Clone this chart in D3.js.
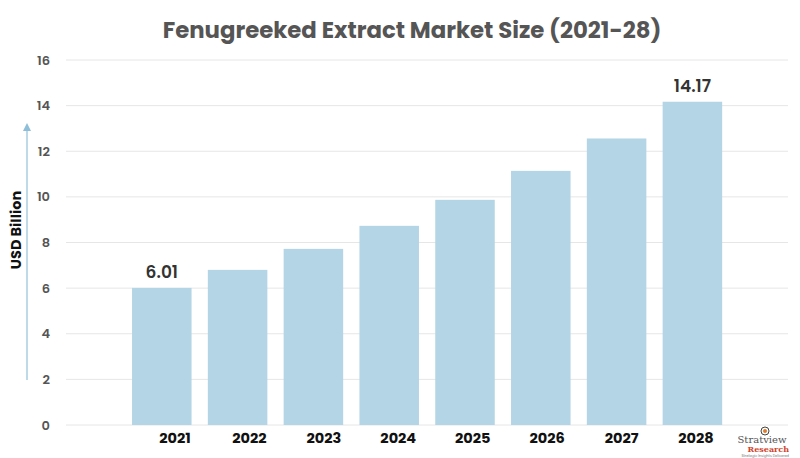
<!DOCTYPE html>
<html><head><meta charset="utf-8">
<script src="https://cdn.jsdelivr.net/npm/d3@7"></script>
<style>body{margin:0;background:#fff}svg{display:block}</style>
</head><body>
<svg id="c" width="800" height="458"></svg>
<script>
const years = ["2021","2022","2023","2024","2025","2026","2027","2028"];
const values = [6.01, 6.8, 7.72, 8.73, 9.87, 11.14, 12.56, 14.17];
const yTicks = [0,2,4,6,8,10,12,14,16];
const labelled = {"2021":"6.01","2028":"14.17"};

const svg = d3.select("#c");
const font = "Poppins, 'Open Sans', 'Noto Sans', sans-serif";
const y = d3.scaleLinear().domain([0,16]).range([425,60]);
const x = d3.scaleBand().domain(years).range([123.9,730.3]).paddingInner(0.215).paddingOuter(0.1075);
const xl = d3.scalePoint().domain(years).range([175,696]);

// grid
svg.append("g").selectAll("line").data(yTicks).join("line")
  .attr("x1",66).attr("x2",788).attr("y1",d=>y(d)).attr("y2",d=>y(d))
  .attr("stroke","#e6e6e6").attr("stroke-width",1);

// y tick labels
svg.append("g").selectAll("text").data(yTicks).join("text")
  .attr("x",50).attr("y",d=>y(d)).attr("dy","0.35em").attr("text-anchor","end")
  .attr("font-family",font).attr("font-size",13).attr("font-weight",600).attr("fill","#555")
  .text(d=>d);

// bars
svg.append("g").selectAll("rect").data(years).join("rect")
  .attr("x",d=>x(d)).attr("width",x.bandwidth())
  .attr("y",(d,i)=>y(values[i])).attr("height",(d,i)=>y(0)-y(values[i]))
  .attr("fill","#b3d5e5");

// value labels
svg.append("g").selectAll("text").data(years.filter(d=>labelled[d])).join("text")
  .attr("x",d=>x(d)+x.bandwidth()/2).attr("y",d=>y(values[years.indexOf(d)])-10)
  .attr("text-anchor","middle").attr("font-family",font).attr("font-size",17).attr("font-weight",600)
  .attr("fill","#333").text(d=>labelled[d]);

// year labels
svg.append("g").selectAll("text").data(years).join("text")
  .attr("x",d=>xl(d)).attr("y",443).attr("text-anchor","middle")
  .attr("font-family",font).attr("font-size",14.5).attr("font-weight",700).attr("fill","#111")
  .text(d=>d);

// title
svg.append("text").attr("x",412).attr("y",38).attr("text-anchor","middle")
  .attr("font-family",font).attr("font-size",22.8).attr("font-weight",700).attr("fill","#555")
  .text("Fenugreeked Extract Market Size (2021-28)");

// y axis title
svg.append("text").attr("transform","translate(21,230) rotate(-90)").attr("text-anchor","middle")
  .attr("font-family",font).attr("font-size",14.5).attr("font-weight",700).attr("fill","#111")
  .text("USD Billion");

// arrow
svg.append("line").attr("x1",27).attr("x2",27).attr("y1",380).attr("y2",128)
  .attr("stroke","#a8cde0").attr("stroke-width",1.5);
svg.append("path").attr("d","M23,131 L27,123 L31,131 Z").attr("fill","#8fbfd8");

// logo
svg.append("text").attr("x",762).attr("y",443).attr("text-anchor","middle")
  .attr("font-family","'DejaVu Serif', serif").attr("font-size",10).attr("fill","#555").text("Stratview");
svg.append("text").attr("x",789).attr("y",452).attr("text-anchor","end")
  .attr("font-family","'DejaVu Serif', serif").attr("font-size",8).attr("font-weight",700).attr("fill","#d0442c").text("Research");
svg.append("text").attr("x",789).attr("y",457).attr("text-anchor","end")
  .attr("font-family",font).attr("font-size",3.5).attr("fill","#777").text("Strategic Insights Delivered");
svg.append("circle").attr("cx",765).attr("cy",431).attr("r",4).attr("fill","none").attr("stroke","#444").attr("stroke-width",1);
svg.append("circle").attr("cx",765).attr("cy",431).attr("r",2).attr("fill","#e07b2a");
</script>
</body></html>
